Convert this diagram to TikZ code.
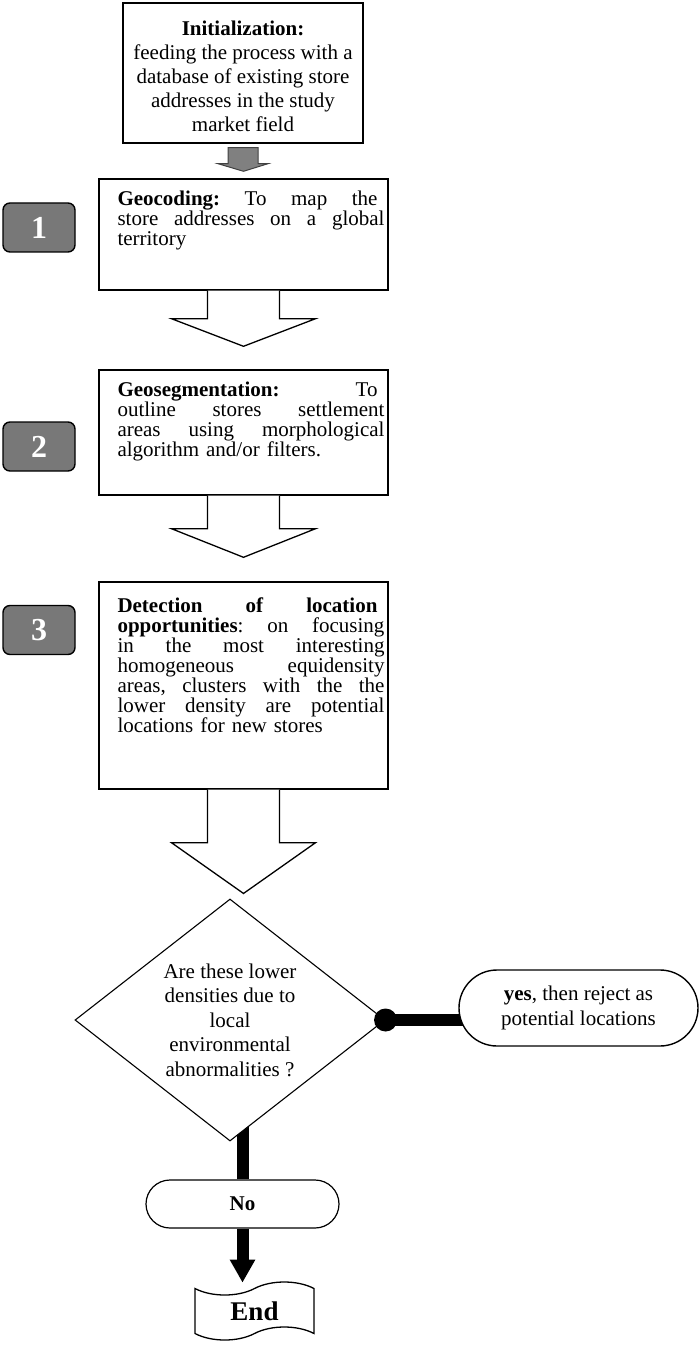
\documentclass[tikz,border=0pt]{standalone}
\usepackage{fontspec}
\setmainfont{Liberation Serif}
\usetikzlibrary{shapes.geometric,shapes.misc,shapes.symbols,arrows.meta,calc,backgrounds}
\definecolor{numgray}{RGB}{120,120,120}
\definecolor{arrgray}{RGB}{128,128,128}
\definecolor{arredge}{RGB}{64,64,64}
\newcommand{\jl}[2]{\leavevmode\hbox to #1{#2}}
\newcommand{\gp}{\hfill}
\begin{document}
\begin{tikzpicture}[x=1pt,y=-1pt,
  box/.style={draw, line width=1.4pt, fill=white, inner sep=0pt},
  numbox/.style={draw, line width=1.4pt, fill=numgray, rounded corners=7pt,
    minimum width=72pt, minimum height=49pt, inner sep=0pt, text=white,
    font=\fontsize{32}{32}\selectfont\bfseries},
  txt/.style={inner sep=0pt, anchor=north west, text width=267pt, align=left,
    font=\fontsize{21}{20}\selectfont},
  barrow/.style={draw, line width=1.3pt, fill=white, line join=miter},
  heavyline/.style={line width=12pt},
  stadium/.style={rounded rectangle, draw, fill=white, inner sep=0pt}
]
\useasboundingbox (0,0) rectangle (699,1348);

% boxes
\node[box, minimum width=240pt, minimum height=140pt] (init) at (243,73) {};
\node[inner sep=0pt, align=center, font=\fontsize{21}{24}\selectfont] (inittxt) at (243,76)
  {\textbf{Initialization:}\\feeding the process with a\\database of existing store\\addresses in the study\\market field};

\node[box, minimum width=289pt, minimum height=111pt] (geo) at (243.5,234.5) {};
\node[txt] (geotxt) at ($(geo.north west)+(19,12)$)
  {\jl{260pt}{\textbf{Geocoding:}\gp To\gp map\gp the}\\
   \jl{267pt}{store\gp addresses\gp on\gp a\gp global}\\
   territory};

\node[box, minimum width=289pt, minimum height=125pt] (seg) at (243.5,432.5) {};
\node[txt] (segtxt) at ($(seg.north west)+(19,12)$)
  {\jl{260pt}{\textbf{Geosegmentation:}\gp To}\\
   \jl{267pt}{outline\gp stores\gp settlement}\\
   \jl{267pt}{areas\gp using\gp morphological}\\
   algorithm and/or filters.};

\node[box, minimum width=289pt, minimum height=207pt] (det) at (243.5,685.5) {};
\node[txt] (dettxt) at ($(det.north west)+(19,16)$)
  {\jl{260pt}{\textbf{Detection\gp of\gp location}}\\
   \jl{267pt}{\textbf{opportunities}:\gp on\gp focusing}\\
   \jl{267pt}{in\gp the\gp most\gp interesting}\\
   \jl{267pt}{homogeneous\gp equidensity}\\
   \jl{267pt}{areas,\gp clusters\gp with\gp the\gp the}\\
   \jl{267pt}{lower\gp density\gp are\gp potential}\\
   locations for new stores};

% step numbers
\node[numbox] (n1) at (39,227.5) {1};
\node[numbox] (n2) at (39,446.5) {2};
\node[numbox] (n3) at (39,630) {3};

% grey arrow
\filldraw[fill=arrgray, draw=arredge, line width=1pt]
  ($(init.south)+(-15,4)$) -- ($(init.south)+(15,4)$) -- ($(init.south)+(15,20)$)
  -- ($(init.south)+(25,20)$) -- ($(geo.north)+(0,-7)$) -- ($(init.south)+(-25,20)$)
  -- ($(init.south)+(-15,20)$) -- cycle;

% hollow block arrows
\draw[barrow] ($(geo.south)+(-36,0)$) -- ($(geo.south)+(-36,28)$) -- ($(geo.south)+(-72,28)$)
  -- ($(seg.north)+(0,-23)$) -- ($(geo.south)+(72,28)$) -- ($(geo.south)+(36,28)$) -- ($(geo.south)+(36,0)$);
\draw[barrow] ($(seg.south)+(-36,0)$) -- ($(seg.south)+(-36,33)$) -- ($(seg.south)+(-72,33)$)
  -- ($(det.north)+(0,-24)$) -- ($(seg.south)+(72,33)$) -- ($(seg.south)+(36,33)$) -- ($(seg.south)+(36,0)$);

% decision
\node[diamond, draw, line width=1.1pt, fill=white, minimum width=310pt, minimum height=242pt,
  inner sep=0pt, aspect=1.28, align=center, font=\fontsize{21}{24.5}\selectfont] (dec) at (230,1020)
  {Are these lower\\densities due to\\local\\environmental\\abnormalities ?};

\draw[barrow] ($(det.south)+(-36,0)$) -- ($(det.south)+(-36,53)$) -- ($(det.south)+(-72,53)$)
  -- ($(det.south |- dec.north)+(0,-5)$) -- ($(det.south)+(72,53)$) -- ($(det.south)+(36,53)$) -- ($(det.south)+(36,0)$);

% yes branch
\node[stadium, line width=1.4pt, minimum width=239pt, minimum height=76pt, align=center,
  font=\fontsize{21}{25}\selectfont] (yes) at (578.5,1008)
  {\textbf{yes}, then reject as\\potential locations};
\begin{scope}[on background layer]
  \draw[heavyline] (dec.east) -- (dec.east -| yes.center);
\end{scope}
\fill (dec.east) circle[radius=11.5pt];

% no branch
\node[stadium, line width=1.2pt, minimum width=193pt, minimum height=48pt,
  font=\fontsize{21}{21}\selectfont\bfseries] (no) at (242.5,1204) {No};
\begin{scope}[on background layer]
  \draw[heavyline] (no.north) -- (no.north |- dec.center);
\end{scope}

\node[tape, draw, line width=1.3pt, fill=white, minimum width=119pt, minimum height=58pt,
  tape bend height=13pt, inner sep=0pt, font=\fontsize{27}{27}\selectfont\bfseries] (end) at (254.5,1311) {End};
\draw[heavyline, -{Triangle[length=23pt,width=24pt]}] (no.south) -- ($(no.south)+(0,54)$);
\end{tikzpicture}
\end{document}
